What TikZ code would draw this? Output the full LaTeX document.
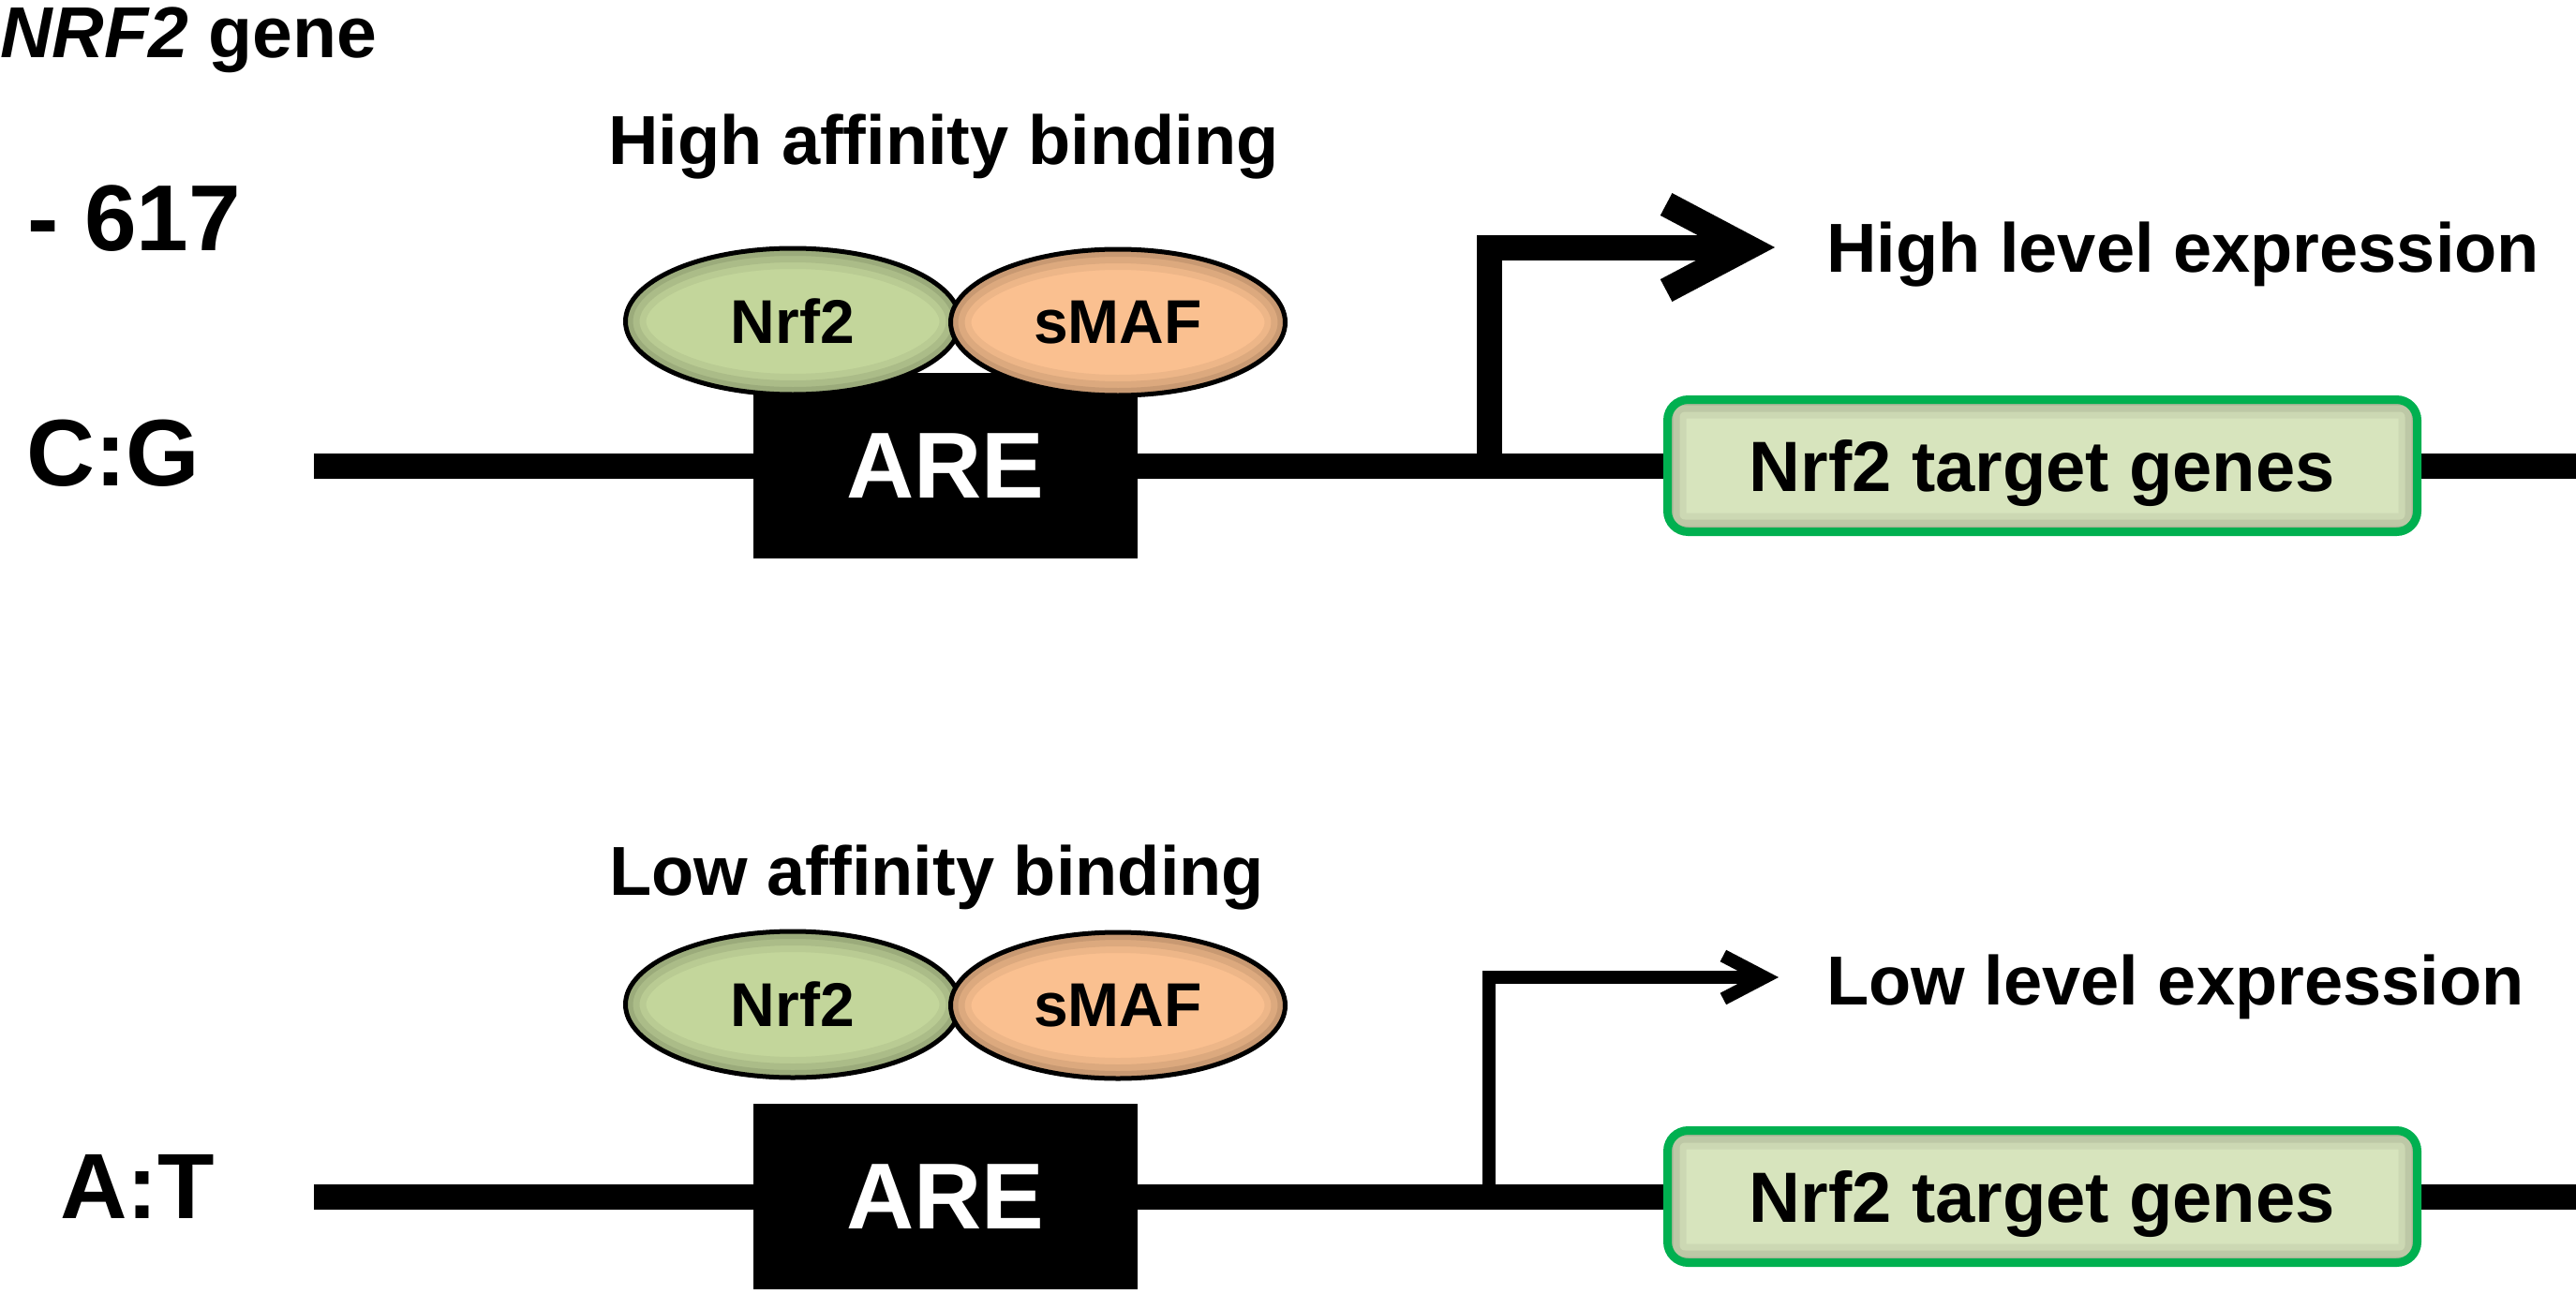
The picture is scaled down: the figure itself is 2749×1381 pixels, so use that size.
\documentclass[tikz,border=0pt]{standalone}
\usepackage{fontspec}
\setmainfont{Liberation Sans}
\usetikzlibrary{shapes.geometric,arrows.meta}
\definecolor{nrfgreen}{HTML}{C3D69B}
\definecolor{maforange}{HTML}{FAC090}
\definecolor{tgfill}{HTML}{D7E4BD}
\definecolor{tgborder}{HTML}{00B050}
\newcommand{\fsz}[1]{\fontsize{#1}{#1}\selectfont}
\begin{document}
\begin{tikzpicture}[x=1pt,y=-1pt,
  txt/.style={inner sep=0pt, anchor=base west, font=\bfseries},
  dna/.style={line width=27pt},
  arebox/.style={fill=black, inner sep=0pt, minimum width=410pt, minimum height=198pt,
    text=white, font=\bfseries\fsz{100}, text depth=0pt},
  prot/.style={ellipse, draw=black, line width=5pt, inner sep=0pt,
    minimum width=357pt, minimum height=156pt, font=\bfseries\fsz{66}, text depth=0pt,
    path picture={\foreach \w/\o in {44pt/0.05,30pt/0.07,16pt/0.09}{
      \draw[line width=\w, black, opacity=\o] (path picture bounding box.center)
        ellipse [x radius=178.5pt, y radius=78pt];}}},
  tgbox/.style={rectangle, rounded corners=22pt, draw=tgborder, line width=9pt, fill=tgfill,
    inner sep=0pt, minimum width=800pt, minimum height=141pt,
    font=\bfseries\fsz{76}, text depth=0pt,
    path picture={\foreach \w/\o in {40pt/0.05,26pt/0.07,12pt/0.09}{
      \draw[line width=\w, black, opacity=\o, rounded corners=18pt]
        (path picture bounding box.south west) rectangle (path picture bounding box.north east);}}},
  strong/.style={line width=27pt, line join=miter, -{Straight Barb[length=87pt,width=92pt]}},
  weak/.style={line width=14pt, line join=miter, -{Straight Barb[length=44pt,width=46pt]}}
]
\useasboundingbox (0,0) rectangle (2749,1381);

% ---------- top panel ----------
\node[txt, font=\bfseries\fsz{77}] (gene) at (0,62) {\textit{NRF2} gene};
\node[txt, font=\bfseries\fsz{100}] (pos) at (29,267) {- 617};
\node[txt, font=\bfseries\fsz{101}] (cg) at (28,518) {C:G};
\node[txt, font=\bfseries\fsz{74}] (hab) at (649,175) {High affinity binding};

\coordinate (dnaL1) at (335,497);
\coordinate (dnaR1) at (2749,497);
\draw[dna] (dnaL1) -- (dnaR1);

\node[arebox] (are1) at (1009,497) {ARE};
\node[prot, fill=nrfgreen] (nrf1) at (846,343) {Nrf2};
\node[prot, fill=maforange] (maf1) at (1193,344) {sMAF};
\node[tgbox] (tg1) at (2179.5,497) {Nrf2 target genes};

\node[txt, font=\bfseries\fsz{74}] (hle) at (1949,290) {High level expression};
\coordinate (tss1) at (1589,497);
\coordinate (tip1) at (1894,264);
\draw[strong] (tss1) |- (tip1);

% ---------- bottom panel ----------
\node[txt, font=\bfseries\fsz{99}] (at) at (64,1300) {A:T};
\node[txt, font=\bfseries\fsz{74}] (lab) at (650,955) {Low affinity binding};

\coordinate (dnaL2) at (335,1277);
\coordinate (dnaR2) at (2749,1277);
\draw[dna] (dnaL2) -- (dnaR2);

\node[arebox] (are2) at (1009,1277) {ARE};
\node[prot, fill=nrfgreen] (nrf2) at (846,1072) {Nrf2};
\node[prot, fill=maforange] (maf2) at (1193,1073) {sMAF};
\node[tgbox] (tg2) at (2179.5,1277) {Nrf2 target genes};

\node[txt, font=\bfseries\fsz{74}] (lle) at (1949,1072) {Low level expression};
\coordinate (tss2) at (1589,1277);
\coordinate (tip2) at (1898,1043);
\draw[weak] (tss2) |- (tip2);
\end{tikzpicture}
\end{document}
